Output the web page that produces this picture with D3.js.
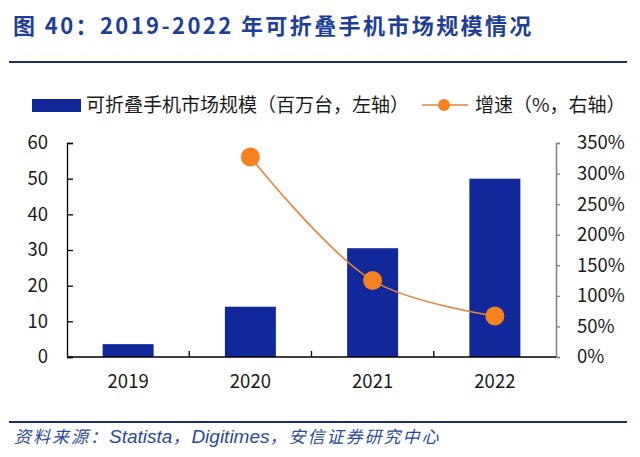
<!DOCTYPE html>
<html><head><meta charset="utf-8">
<script src="https://cdn.jsdelivr.net/npm/d3@7/dist/d3.min.js"></script>
<style>body{margin:0;background:#fff}svg{display:block}</style>
</head><body><svg id="c" width="640" height="457"></svg>
<script>
const categories = ["2019","2020","2021","2022"];
const marketSize = [3.6, 14.1, 30.5, 50];          // 百万台
const growthRate = [null, 327, 125, 67];            // %
const leftTicks = [0,10,20,30,40,50,60];
const rightTicks = [0,50,100,150,200,250,300,350];
const titleText = "图 40：2019-2022 年可折叠手机市场规模情况";
const legendBar = "可折叠手机市场规模（百万台，左轴）";
const legendLine = "增速（%，右轴）";
const sourceParts = [
  {t:"资料来源：", latin:false},
  {t:"Statista", latin:true},
  {t:"，", latin:false},
  {t:"Digitimes", latin:true},
  {t:"，安信证券研究中心", latin:false}
];

const svg = d3.select("#c");
const FONT = "'Noto Sans CJK SC','Noto Sans',sans-serif";
const BAR = "#10289a", ORANGE = "#f5821f", LINE = "#e4843c", NAVY = "#1d3f99";

// title
svg.append("text").attr("x",13).attr("y",34)
  .attr("font-family",FONT).attr("font-weight","bold").attr("font-size",22)
  .attr("fill",NAVY).attr("letter-spacing",2.4).text(titleText);
svg.append("line").attr("x1",9).attr("x2",627).attr("y1",62).attr("y2",62)
  .attr("stroke","#1f2f66").attr("stroke-width",2);

const x0 = 67, x1 = 556, yTop = 143, yBot = 357;
const x = d3.scaleBand().domain(categories).range([x0,x1]).paddingInner(0.583).paddingOuter(0.2915);
const slot = d3.scaleBand().domain(categories).range([x0,x1]).padding(0);
const yL = d3.scaleLinear().domain([0,60]).range([yBot,yTop]);
const yR = d3.scaleLinear().domain([0,350]).range([yBot,yTop]);

// bars
svg.append("g").selectAll("rect").data(categories).join("rect")
  .attr("x",d=>x(d)).attr("width",x.bandwidth())
  .attr("y",(d,i)=>yL(marketSize[i])).attr("height",(d,i)=>yBot-yL(marketSize[i]))
  .attr("fill",BAR);

// left axis
const gL = svg.append("g").attr("transform",`translate(${x0},0)`)
  .call(d3.axisLeft(yL).tickValues(leftTicks).tickSize(-6).tickPadding(19));
gL.select(".domain").attr("stroke","#000").attr("stroke-width",1.3);
gL.selectAll(".tick line").attr("stroke","#000").attr("stroke-width",1.3);
gL.selectAll("text").attr("font-family",FONT).attr("font-size",18.5).attr("fill","#1a1a1a");

// right axis
const gR = svg.append("g").attr("transform",`translate(${x1},0)`)
  .call(d3.axisRight(yR).tickValues(rightTicks).tickSize(4).tickPadding(17).tickFormat(d=>d+"%"));
gR.select(".domain").attr("stroke","#808080").attr("stroke-width",1.5);
gR.selectAll(".tick line").attr("stroke","#808080").attr("stroke-width",1.3);
gR.selectAll("text").attr("font-family",FONT).attr("font-size",18.5).attr("fill","#1a1a1a");

// bottom axis
const gB = svg.append("g").attr("transform",`translate(0,${yBot})`)
  .call(d3.axisBottom(slot).tickSize(0).tickPadding(18));
gB.select(".domain").remove();
gB.selectAll("text").attr("font-family",FONT).attr("font-size",18.5).attr("fill","#1a1a1a");
svg.append("line").attr("x1",x0).attr("x2",x1).attr("y1",yBot).attr("y2",yBot)
  .attr("stroke","#000").attr("stroke-width",1.5);
svg.append("g").selectAll("line").data(categories.slice(1)).join("line")
  .attr("x1",d=>slot(d)).attr("x2",d=>slot(d)).attr("y1",yBot).attr("y2",yBot-6)
  .attr("stroke","#000").attr("stroke-width",1.3);

// growth line
const pts = categories.map((c,i)=>({c,v:growthRate[i]})).filter(d=>d.v!=null);
svg.append("path").datum(pts)
  .attr("d",d3.line().x(d=>slot(d.c)+slot.bandwidth()/2).y(d=>yR(d.v)).curve(d3.curveCatmullRom.alpha(0.5)))
  .attr("fill","none").attr("stroke",LINE).attr("stroke-width",1.6);
svg.append("g").selectAll("circle").data(pts).join("circle")
  .attr("cx",d=>slot(d.c)+slot.bandwidth()/2).attr("cy",d=>yR(d.v)).attr("r",9.5)
  .attr("fill",ORANGE);

// legend
svg.append("rect").attr("x",32).attr("y",99).attr("width",49).attr("height",13).attr("fill",BAR);
svg.append("text").attr("x",86).attr("y",112).attr("font-family",FONT).attr("font-size",19)
  .attr("fill","#1a1a1a").text(legendBar);
svg.append("line").attr("x1",422).attr("x2",468).attr("y1",105).attr("y2",105)
  .attr("stroke",LINE).attr("stroke-width",1.6);
svg.append("circle").attr("cx",444).attr("cy",105).attr("r",6).attr("fill",ORANGE);
svg.append("text").attr("x",475).attr("y",112).attr("font-family",FONT).attr("font-size",19)
  .attr("fill","#1a1a1a").text(legendLine);

// source
svg.append("line").attr("x1",9).attr("x2",627).attr("y1",422).attr("y2",422)
  .attr("stroke","#1f2f66").attr("stroke-width",2);
const src = svg.append("text").attr("x",14).attr("y",443).attr("font-style","italic").attr("fill","#2b4a9b");
src.selectAll("tspan").data(sourceParts).join("tspan")
  .attr("font-family",d=>d.latin?"'Liberation Sans',Arial,sans-serif":FONT)
  .attr("font-size",d=>d.latin?19:17)
  .attr("letter-spacing",d=>d.latin?0:2)
  .text(d=>d.t);
</script></body></html>
